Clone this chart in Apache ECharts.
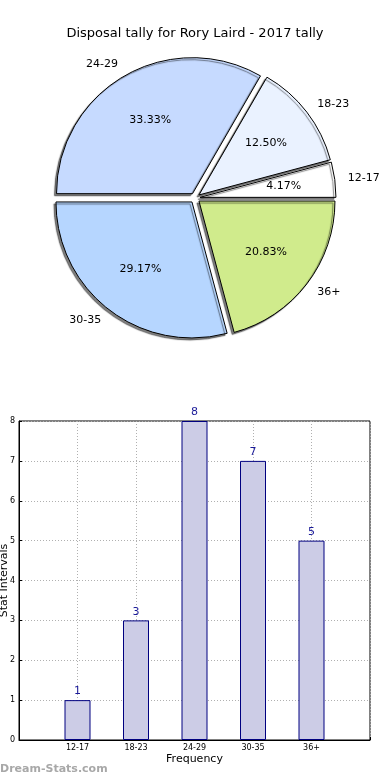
<!DOCTYPE html>
<html>
<head>
<meta charset="utf-8">
<script src="https://cdn.jsdelivr.net/npm/echarts@6/dist/echarts.min.js"></script>
<style>
html,body{margin:0;padding:0;background:#fff;}
#c{width:390px;height:780px;}
</style>
</head>
<body>
<div id="c"></div>
<script>
var categories = ['12-17', '18-23', '24-29', '30-35', '36+'];
var counts = [1, 3, 8, 7, 5];
var sliceColors = ['#ffffff', '#eaf2ff', '#c6daff', '#b6d6ff', '#d0eb8c'];
var yTicks = [0, 1, 2, 3, 4, 5, 6, 7, 8];
var titleText = 'Disposal tally for Rory Laird - 2017 tally';

var FONT = 'DejaVu Sans';
var total = counts.reduce(function (a, b) { return a + b; }, 0);
var R = 136;

var pieData = categories.map(function (c, i) {
  return { name: c, value: counts[i], selected: true, itemStyle: { color: sliceColors[i] } };
});
var pctData = categories.map(function (c, i) {
  return { name: c, value: counts[i], selected: true };
});
var barData = categories.map(function (c, i) { return [i + 1, counts[i]]; });

var chart = echarts.init(document.getElementById('c'), null, { renderer: 'canvas' });
chart.setOption({
  animation: false,
  backgroundColor: '#fff',
  title: {
    text: titleText, left: 'center', top: 22,
    textStyle: { fontFamily: FONT, fontSize: 13, fontWeight: 'normal', color: '#000' }
  },
  graphic: [{
    type: 'text', left: 0, top: 764,
    style: { text: 'Dream-Stats.com', font: 'bold 11px "DejaVu Sans"', fill: '#a8a8a8' }
  }],
  grid: {
    left: 19, right: 20, top: 421, bottom: 40,
    containLabel: false, outerBoundsMode: 'none',
    show: true, borderColor: '#000', borderWidth: 1
  },
  xAxis: {
    type: 'value', min: 0, max: 6, interval: 1,
    name: 'Frequency', nameLocation: 'middle', nameGap: 14, nameMoveOverlap: false,
    nameTextStyle: { fontFamily: FONT, fontSize: 11, color: '#000' },
    axisLine: { show: true, lineStyle: { color: '#000' } },
    axisTick: { show: true, inside: true, length: 3, lineStyle: { color: '#000' } },
    axisLabel: {
      fontFamily: FONT, fontSize: 8, color: '#000', margin: 4,
      formatter: function (v) { return categories[v - 1] || ''; }
    },
    splitLine: { show: true, lineStyle: { color: '#b0b0b0', type: [1, 2], width: 1 } }
  },
  yAxis: {
    type: 'value', min: yTicks[0], max: yTicks[yTicks.length - 1], interval: 1,
    name: 'Stat Intervals', nameLocation: 'middle', nameGap: 9, nameMoveOverlap: false,
    nameTextStyle: { fontFamily: FONT, fontSize: 11, color: '#000' },
    axisLine: { show: true, lineStyle: { color: '#000' } },
    axisTick: { show: true, inside: true, length: 3, lineStyle: { color: '#000' } },
    axisLabel: { fontFamily: FONT, fontSize: 8, color: '#000', margin: 4 },
    splitLine: { show: true, lineStyle: { color: '#b0b0b0', type: [1, 2], width: 1 } }
  },
  series: [
    {
      type: 'pie',
      center: [195, 198], radius: [0, R],
      startAngle: 0, clockwise: false,
      selectedMode: 'multiple', selectedOffset: 5,
      avoidLabelOverlap: false,
      data: pieData,
      itemStyle: {
        borderColor: '#000', borderWidth: 1,
        shadowColor: 'rgba(0,0,0,0.5)', shadowBlur: 1, shadowOffsetX: -2, shadowOffsetY: 2
      },
      label: {
        show: true, position: 'outside', fontFamily: FONT, fontSize: 11, color: '#000',
        distanceToLabelLine: 0
      },
      labelLine: { show: false, length: 13, length2: 0 },
      emphasis: { disabled: true },
      silent: true
    },
    {
      type: 'pie',
      center: [195, 198], radius: [0, R * 1.2],
      startAngle: 0, clockwise: false,
      selectedMode: 'multiple', selectedOffset: 5,
      avoidLabelOverlap: false,
      data: pctData,
      itemStyle: { color: 'rgba(0,0,0,0)', borderWidth: 0 },
      label: {
        show: true, position: 'inside', fontFamily: FONT, fontSize: 11, color: '#000',
        formatter: function (p) { return (p.value / total * 100).toFixed(2) + '%'; }
      },
      labelLine: { show: false },
      emphasis: { disabled: true },
      silent: true,
      z: 3
    },
    {
      type: 'bar',
      data: barData,
      barWidth: 26,
      itemStyle: { color: '#ccccE6', borderColor: '#000080', borderWidth: 1 },
      label: {
        show: true, position: 'top', distance: 3, fontFamily: FONT, fontSize: 11, color: '#1a1a99',
        formatter: function (p) { return p.value[1]; }
      },
      emphasis: { disabled: true },
      silent: true
    }
  ]
});
</script>
</body>
</html>
